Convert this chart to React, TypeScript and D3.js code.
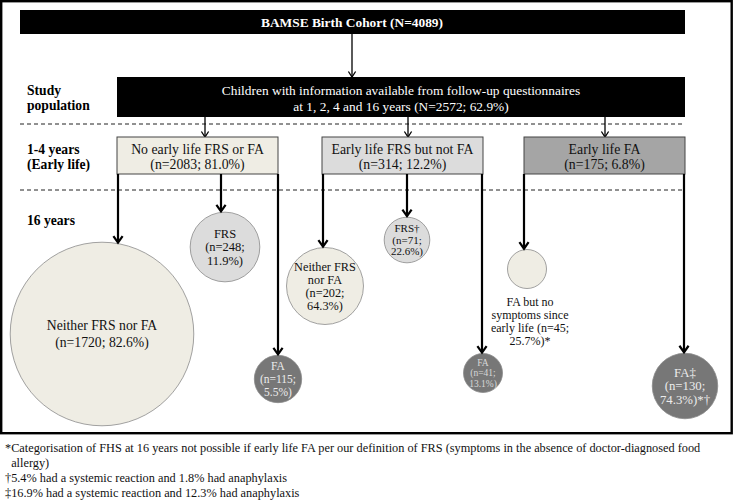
import React from "react";
import * as d3 from "d3";

// ---------- data ----------
const cohortTitle = "BAMSE Birth Cohort (N=4089)";
const studyLines = [
  "Children with information available from follow-up questionnaires",
  "at 1, 2, 4 and 16 years (N=2572; 62.9%)",
];
const stageLabels = [["Study", "population"], ["1-4 years", "(Early life)"], ["16 years"]];

const groupNames = ["No early life FRS or FA", "Early life FRS but not FA", "Early life FA"];
const groupN = [2083, 314, 175];
const groupPct = ["81.0", "12.2", "6.8"];

const outcomeGroup = [0, 0, 0, 1, 1, 1, 2, 2];
const outcomeN = [1720, 248, 115, 202, 71, 41, 45, 130];
const outcomePct = ["82.6", "11.9", "5.5", "64.3", "22.6", "13.1", "25.7", "74.3"];
const outcomeLines = [
  ["Neither FRS nor FA", "(n=1720; 82.6%)"],
  ["FRS", "(n=248;", "11.9%)"],
  ["FA", "(n=115;", "5.5%)"],
  ["Neither FRS", "nor FA", "(n=202;", "64.3%)"],
  ["FRS†", "(n=71;", "22.6%)"],
  ["FA", "(n=41;", "13.1%)"],
  ["FA but no", "symptoms since", "early life (n=45;", "25.7%)*"],
  ["FA‡", "(n=130;", "74.3%)*†"],
];

const footnotes = [
  "*Categorisation of FHS at 16 years not possible if early life FA per our definition of FRS (symptoms in the absence of doctor-diagnosed food",
  "  allergy)",
  "†5.4% had a systemic reaction and 1.8% had anaphylaxis",
  "‡16.9% had a systemic reaction and 12.3% had anaphylaxis",
];

// ---------- layout / style ----------
const W = 734;
const H = 503;
const FONT = "Liberation Serif, DejaVu Serif, serif";

const groupFill = ["#efede4", "#dcdcdc", "#a5a5a5"];
const boxX = [117, 322, 524];
const boxW = 161;
const boxTop = 137;
const boxBot = 174;

// per-group radius scale (area ~ percent within group)
const radiusMax = [101, 48, 38];
const radius = (i: number) => {
  const g = outcomeGroup[i];
  const s = d3.scaleSqrt().domain([0, 100]).range([0, radiusMax[g]]);
  return Math.max(19.5, s(+outcomePct[i]));
};

const outcomeLayout = [
  { cx: 102, cy: 334, ax: 118, fill: "#efede4", font: 13.7, lh: 17, color: "#111" },
  { cx: 225, cy: 247, ax: 221, fill: "#dcdcdc", font: 12.5, lh: 13.5, color: "#111" },
  { cx: 278, cy: 379, ax: 278, fill: "#777777", font: 11.5, lh: 13, color: "#ececec" },
  { cx: 325, cy: 286, ax: 323, fill: "#efede4", font: 12.3, lh: 13, color: "#111" },
  { cx: 407, cy: 240, ax: 407, fill: "#dcdcdc", font: 11, lh: 11.5, color: "#111" },
  { cx: 483, cy: 373, ax: 482, fill: "#777777", font: 9.5, lh: 10.8, color: "#d8d8d8" },
  { cx: 527, cy: 269, ax: 524, fill: "#efede4", font: 12, lh: 13, color: "#111" },
  { cx: 685, cy: 386, ax: 684, fill: "#777777", font: 12.8, lh: 13.5, color: "#ececec" },
];

function Arrow({ x, y1, y2, thick }: { x: number; y1: number; y2: number; thick: boolean }) {
  const hw = thick ? 4.6 : 3.6;
  const hh = thick ? 6.5 : 5.5;
  const sw = thick ? 2.2 : 1.3;
  return (
    <g stroke="#000" fill="none" strokeWidth={sw}>
      <line x1={x} y1={y1} x2={x} y2={y2 - 0.5} />
      <polyline points={`${x - hw},${y2 - hh} ${x},${y2} ${x + hw},${y2 - hh}`} strokeLinejoin="miter" />
    </g>
  );
}

export default function App() {
  const tipY = (i: number) => {
    const L = outcomeLayout[i];
    const r = radius(i);
    const dx = L.ax - L.cx;
    return L.cy - Math.sqrt(Math.max(0, r * r - dx * dx)) - 1;
  };

  return (
    <svg
      width={W}
      height={H}
      style={{ position: "absolute", left: 0, top: 0, background: "#fff", fontFamily: FONT }}
    >
      <rect x={0} y={0} width={W} height={H} fill="#fff" />
      <rect x={1.2} y={1.2} width={730.5} height={432} fill="none" stroke="#000" strokeWidth={2.4} />

      <rect x={20} y={10} width={665} height={24} fill="#000" />
      <text x={352} y={22} dy="0.35em" textAnchor="middle" fill="#fff" fontWeight="bold" fontSize={13.4}>
        {cohortTitle}
      </text>
      <Arrow x={352} y1={34} y2={77} thick={false} />

      <rect x={117} y={77} width={568} height={40} fill="#000" />
      {studyLines.map((t, i) => (
        <text key={i} x={401} y={90 + i * 16} dy="0.35em" textAnchor="middle" fill="#fff" fontSize={13.4}>
          {t}
        </text>
      ))}

      {stageLabels.map((lines, s) =>
        lines.map((t, j) => (
          <text
            key={s + "-" + j}
            x={27}
            y={[90, 149, 220][s] + j * 15}
            dy="0.35em"
            fontWeight="bold"
            fontSize={13.6}
            fill="#000"
          >
            {t}
          </text>
        ))
      )}

      {[124, 190].map((y) => (
        <line key={y} x1={20} x2={685} y1={y} y2={y} stroke="#222" strokeWidth={1} strokeDasharray="4,3" />
      ))}

      {groupNames.map((name, g) => {
        const x = boxX[g];
        const cx = x + boxW / 2;
        return (
          <g key={g}>
            <Arrow x={[205, 408, 605][g]} y1={117} y2={boxTop} thick={false} />
            <rect x={x} y={boxTop} width={boxW} height={boxBot - boxTop} fill={groupFill[g]} stroke="#444" strokeWidth={1} />
            <text x={cx} y={149} dy="0.35em" textAnchor="middle" fontSize={13.8} fill="#111">
              {name}
            </text>
            <text x={cx} y={164} dy="0.35em" textAnchor="middle" fontSize={13.8} fill="#111">
              {`(n=${groupN[g]}; ${groupPct[g]}%)`}
            </text>
          </g>
        );
      })}

      {outcomeN.map((n, i) => {
        const L = outcomeLayout[i];
        const r = radius(i);
        const lines = outcomeLines[i];
        const below = i === 6;
        const startY = below ? L.cy + r + 13 : L.cy - ((lines.length - 1) * L.lh) / 2;
        return (
          <g key={i}>
            <circle cx={L.cx} cy={L.cy} r={r} fill={L.fill} stroke="#8a8a8a" strokeWidth={0.8} />
            <Arrow x={L.ax} y1={boxBot} y2={tipY(i)} thick={true} />
            {lines.map((t, j) => (
              <text
                key={j}
                x={below ? L.cx + 3 : L.cx}
                y={startY + j * L.lh}
                dy="0.35em"
                textAnchor="middle"
                fontSize={L.font}
                fill={below ? "#111" : L.color}
              >
                {t}
              </text>
            ))}
          </g>
        );
      })}

      {footnotes.map((t, i) => (
        <text key={i} x={5} y={448 + i * 15} dy="0.35em" fontSize={12.3} fill="#111" style={{ whiteSpace: "pre" }}>
          {t}
        </text>
      ))}
    </svg>
  );
}
